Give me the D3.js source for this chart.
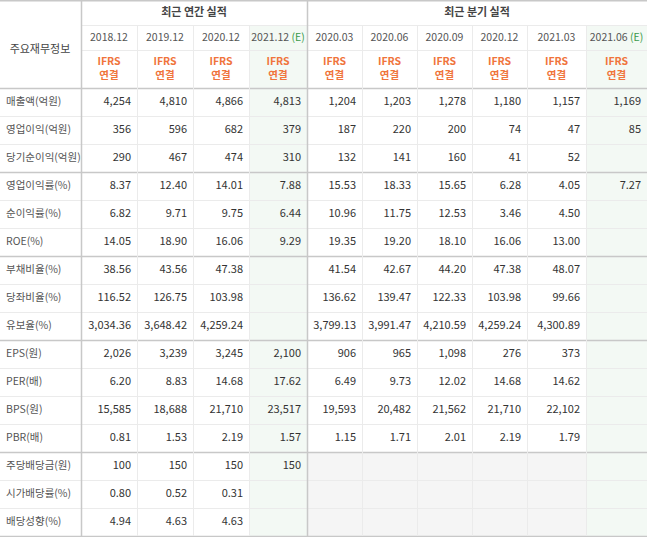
<!DOCTYPE html><html><head><meta charset="utf-8"><script src="https://cdn.jsdelivr.net/npm/d3@7"></script>
<style>body{margin:0;background:#fff}text{font-family:"Noto Sans CJK KR","Noto Sans",sans-serif}</style></head><body><svg id="c" width="647" height="537"></svg>
<script>
const periods=["2018.12","2019.12","2020.12","2021.12","2020.03","2020.06","2020.09","2020.12","2021.03","2021.06"];
const estimates=[3,9];
const rowLabels=["매출액(억원)","영업이익(억원)","당기순이익(억원)","영업이익률(%)","순이익률(%)","ROE(%)","부채비율(%)","당좌비율(%)","유보율(%)","EPS(원)","PER(배)","BPS(원)","PBR(배)","주당배당금(원)","시가배당률(%)","배당성향(%)"];
const groupEnds=[2,5,8,12];
const values=[
["4,254","4,810","4,866","4,813","1,204","1,203","1,278","1,180","1,157","1,169"],
["356","596","682","379","187","220","200","74","47","85"],
["290","467","474","310","132","141","160","41","52",""],
["8.37","12.40","14.01","7.88","15.53","18.33","15.65","6.28","4.05","7.27"],
["6.82","9.71","9.75","6.44","10.96","11.75","12.53","3.46","4.50",""],
["14.05","18.90","16.06","9.29","19.35","19.20","18.10","16.06","13.00",""],
["38.56","43.56","47.38","","41.54","42.67","44.20","47.38","48.07",""],
["116.52","126.75","103.98","","136.62","139.47","122.33","103.98","99.66",""],
["3,034.36","3,648.42","4,259.24","","3,799.13","3,991.47","4,210.59","4,259.24","4,300.89",""],
["2,026","3,239","3,245","2,100","906","965","1,098","276","373",""],
["6.20","8.83","14.68","17.62","6.49","9.73","12.02","14.68","14.62",""],
["15,585","18,688","21,710","23,517","19,593","20,482","21,562","21,710","22,102",""],
["0.81","1.53","2.19","1.57","1.15","1.71","2.01","2.19","1.79",""],
["100","150","150","150","","","","","",""],
["0.80","0.52","0.31","","","","","","",""],
["4.94","4.63","4.63","","","","","","",""]];
const colEdges=[0,81,137,193,249,307,362,417,472,527,586,647];
const svg=d3.select("#c");
const x=i=>colEdges[i+1], w=i=>colEdges[i+2]-colEdges[i+1];
const y=d3.scaleLinear().domain([0,16]).range([88,536]);
const rh=28;
svg.append("rect").attr("x",0).attr("y",0).attr("width",647).attr("height",88).attr("fill","#fff");
estimates.forEach(c=>svg.append("rect").attr("x",x(c)).attr("y",25).attr("width",w(c)).attr("height",511).attr("fill","#f3f9f4"));
values.forEach((r,ri)=>r.forEach((v,ci)=>{ if(ri>=13&&ci>=4&&ci<9) svg.append("rect").attr("x",x(ci)).attr("y",y(ri)).attr("width",w(ci)).attr("height",rh).attr("fill","#f5f5f5");}));
const g=svg.append("g");
for(let i=0;i<=16;i++){const thick=i==0||groupEnds.includes(i-1)||i==16;
 g.append("line").attr("x1",0).attr("x2",647).attr("y1",y(i)+.5).attr("y2",y(i)+.5).attr("stroke",thick?"#c8c8c8":"#ebebeb").attr("stroke-width",thick?1.5:1);}
g.append("line").attr("x1",81).attr("x2",647).attr("y1",25.5).attr("y2",25.5).attr("stroke","#ebebeb");
g.append("line").attr("x1",81).attr("x2",647).attr("y1",50.5).attr("y2",50.5).attr("stroke","#ebebeb");
g.append("line").attr("x1",0).attr("x2",647).attr("y1",0.75).attr("y2",0.75).attr("stroke","#c8c8c8").attr("stroke-width",1.5);
colEdges.slice(1,-1).forEach((cx,i)=>{const major=cx==81||cx==307;
 g.append("line").attr("x1",cx+.5).attr("x2",cx+.5).attr("y1",major?0:25).attr("y2",536).attr("stroke",major?"#c8c8c8":"#ebebeb").attr("stroke-width",major?1.5:1);});
svg.append("text").attr("x",40).attr("y",50).attr("text-anchor","middle").attr("dominant-baseline","middle").attr("font-size",11).attr("fill","#444").text("주요재무정보");
svg.append("text").attr("x",194).attr("y",13).attr("text-anchor","middle").attr("dominant-baseline","middle").attr("font-size",11).attr("font-weight","bold").attr("fill","#444").text("최근 연간 실적");
svg.append("text").attr("x",477).attr("y",13).attr("text-anchor","middle").attr("dominant-baseline","middle").attr("font-size",11).attr("font-weight","bold").attr("fill","#444").text("최근 분기 실적");
periods.forEach((p,i)=>{const t=svg.append("text").attr("x",x(i)+w(i)/2).attr("y",38).attr("text-anchor","middle").attr("dominant-baseline","middle").attr("font-size",10.5).attr("fill","#555");
 t.append("tspan").text(p); if(estimates.includes(i)) t.append("tspan").attr("fill","#3a9a4a").text(" (E)");
 svg.append("text").attr("x",x(i)+w(i)/2).attr("y",62).attr("text-anchor","middle").attr("dominant-baseline","middle").attr("font-size",10.5).attr("font-weight","bold").attr("fill","#f0743c").text("IFRS");
 svg.append("text").attr("x",x(i)+w(i)/2).attr("y",76.5).attr("text-anchor","middle").attr("dominant-baseline","middle").attr("font-size",10.5).attr("font-weight","bold").attr("fill","#f0743c").text("연결");});
rowLabels.forEach((l,ri)=>svg.append("text").attr("x",6).attr("y",y(ri)+rh/2).attr("dominant-baseline","middle").attr("font-size",10.5).attr("fill","#555").text(l));
values.forEach((r,ri)=>r.forEach((v,ci)=>{ if(v) svg.append("text").attr("x",x(ci)+w(ci)-6).attr("y",y(ri)+rh/2).attr("text-anchor","end").attr("dominant-baseline","middle").attr("font-size",11).attr("fill","#333").text(v);}));
</script></body></html>
